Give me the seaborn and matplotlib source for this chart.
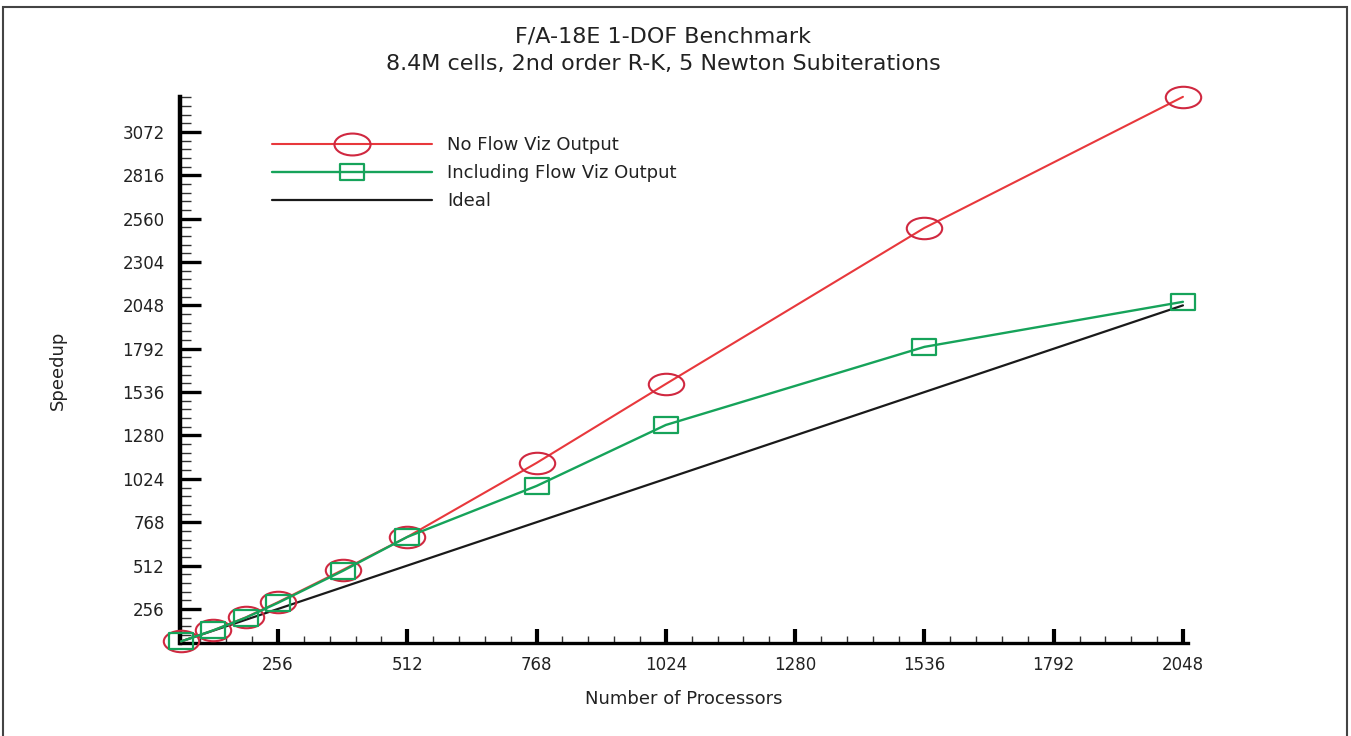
import numpy as np
import pandas as pd
import matplotlib
matplotlib.use("Agg")
import matplotlib.pyplot as plt
import seaborn as sns
from matplotlib.path import Path
from matplotlib.transforms import Affine2D
from matplotlib.lines import Line2D
from matplotlib.patches import Rectangle
from matplotlib.ticker import MultipleLocator

# ---- data ----
processors = [64, 128, 192, 256, 384, 512, 768, 1024, 1536, 2048]
no_flow_viz = [64, 130, 206, 296, 486, 681, 1118, 1584, 2505, 3279]
incl_flow_viz = [64, 130, 204, 292, 480, 681, 982, 1342, 1803, 2069]
ideal_procs = [64, 2048]
ideal_speedup = [64, 2048]
xticks = [256, 512, 768, 1024, 1280, 1536, 1792, 2048]
yticks = [256, 512, 768, 1024, 1280, 1536, 1792, 2048, 2304, 2560, 2816, 3072]
series_names = ["No Flow Viz Output", "Including Flow Viz Output", "Ideal"]
title_lines = ["F/A-18E 1-DOF Benchmark", "8.4M cells, 2nd order R-K, 5 Newton Subiterations"]

sns.set_style("white")
plt.rcParams['font.family'] = ['DejaVu Sans']

RED = "#e8383c"
RED_EDGE = "#d02840"
GREEN = "#16a35a"
BLACK = "#1a1a1a"

# custom markers: horizontally stretched ellipse and rectangle
ellipse = Path.unit_circle().transformed(Affine2D().scale(1.65, 1.0))
rect = Path([(-1.6, -1), (1.6, -1), (1.6, 1), (-1.6, 1), (-1.6, -1)],
            [Path.MOVETO, Path.LINETO, Path.LINETO, Path.LINETO, Path.CLOSEPOLY])

fig = plt.figure(figsize=(13.51, 7.36), dpi=100)
ax = fig.add_axes([180 / 1351, (736 - 643) / 736, (1188 - 180) / 1351, (643 - 97) / 736])

df_red = pd.DataFrame({"procs": processors, "speedup": no_flow_viz})
df_green = pd.DataFrame({"procs": processors, "speedup": incl_flow_viz})
df_ideal = pd.DataFrame({"procs": ideal_procs, "speedup": ideal_speedup})

sns.lineplot(data=df_ideal, x="procs", y="speedup", ax=ax, color=BLACK, lw=1.6,
             zorder=2, clip_on=False)
sns.lineplot(data=df_green, x="procs", y="speedup", ax=ax, color=GREEN, lw=1.7,
             marker=rect, markersize=17.5, markerfacecolor="none",
             markeredgecolor=GREEN, markeredgewidth=1.6, zorder=4, clip_on=False)
sns.lineplot(data=df_red, x="procs", y="speedup", ax=ax, color=RED, lw=1.5,
             marker=ellipse, markersize=25.5, markerfacecolor="none",
             markeredgecolor=RED_EDGE, markeredgewidth=1.5, zorder=3, clip_on=False)

ax.set_xlim(62, 2058)
ax.set_ylim(55, 3278)

ax.set_xticks(xticks)
ax.set_yticks(yticks)
ax.xaxis.set_minor_locator(MultipleLocator(51.2))
ax.yaxis.set_minor_locator(MultipleLocator(51.2))

for s in ["top", "right"]:
    ax.spines[s].set_visible(False)
ax.spines["left"].set_linewidth(3.2)
ax.spines["bottom"].set_linewidth(2.4)
ax.spines["left"].set_color("black")
ax.spines["bottom"].set_color("black")

ax.tick_params(which="both", bottom=True, left=True, top=False, right=False)
ax.tick_params(axis="y", which="major", direction="in", length=15, width=2.4,
               labelsize=12, pad=11, colors="black")
ax.tick_params(axis="y", which="minor", direction="in", length=8, width=1.0, colors="#333333")
ax.tick_params(axis="x", which="major", direction="in", length=10, width=3.0,
               labelsize=12, pad=9, colors="black")
ax.tick_params(axis="x", which="minor", direction="in", length=5, width=1.0, colors="#333333")
for lab in ax.get_xticklabels() + ax.get_yticklabels():
    lab.set_color("#222222")

ax.set_xlabel("Number of Processors", fontsize=13, color="#222222", labelpad=12)
ax.set_ylabel("Speedup", fontsize=13, color="#222222", labelpad=40)

fig.text(0.491, 1 - 37 / 736, title_lines[0], ha="center", va="center", fontsize=16, color="#222222")
fig.text(0.491, 1 - 64 / 736, title_lines[1], ha="center", va="center", fontsize=16, color="#222222")

handles = [
    Line2D([], [], color=RED, lw=1.5, marker=ellipse, markersize=26, markerfacecolor="none",
           markeredgecolor=RED_EDGE, markeredgewidth=1.5),
    Line2D([], [], color=GREEN, lw=1.7, marker=rect, markersize=17.5, markerfacecolor="none",
           markeredgecolor=GREEN, markeredgewidth=1.6),
    Line2D([], [], color=BLACK, lw=1.6),
]
leg = ax.legend(handles, series_names, loc="upper left", bbox_to_anchor=(0.091, 0.928),
                frameon=False, fontsize=13, handlelength=8.9, handletextpad=0.8,
                labelspacing=0.55, borderpad=0, borderaxespad=0, numpoints=1)
for t in leg.get_texts():
    t.set_color("#222222")

fig.patches.append(Rectangle((3 / 1351, -0.02), 1344 / 1351, (736 - 7) / 736 + 0.02,
                             transform=fig.transFigure, fill=False, lw=1.5,
                             edgecolor="#444444", clip_on=False))

fig.savefig("out.png", dpi=100)
